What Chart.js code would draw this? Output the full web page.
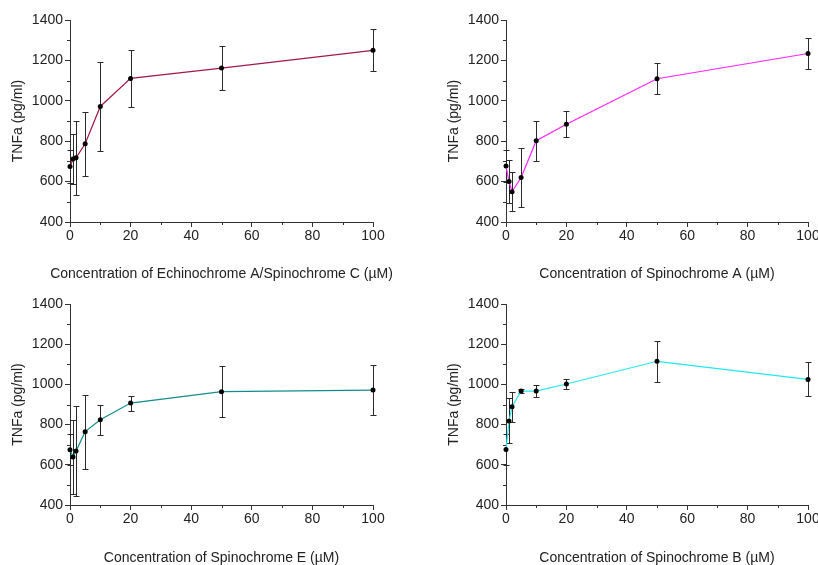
<!DOCTYPE html>
<html>
<head>
<meta charset="utf-8">
<script src="https://cdn.jsdelivr.net/npm/chart.js@4"></script>
<style>
  html, body { margin: 0; padding: 0; background: #fff; overflow: hidden; }
  body { width: 818px; height: 565px; position: relative; }
  canvas { position: absolute; }
</style>
</head>
<body>
<canvas id="c1" width="409" height="285" style="left:0;top:0"></canvas>
<canvas id="c2" width="409" height="285" style="left:409px;top:0"></canvas>
<canvas id="c3" width="409" height="282" style="left:0;top:285px"></canvas>
<canvas id="c4" width="409" height="282" style="left:409px;top:285px"></canvas>
<script>
// ---- data ----
const concentrations = [0, 1, 2, 5, 10, 20, 50, 100];

const echinoMean = [675, 712, 718, 787, 972, 1111, 1162, 1250];
const echinoErr  = [80, 125, 184, 157, 219, 141, 108, 103];

const spinoAMean = [677, 600, 550, 620, 802, 884, 1109, 1234];
const spinoAErr  = [80, 108, 97, 148, 99, 64, 77, 76];

const spinoEMean = [675, 639, 669, 765, 824, 907, 964, 972];
const spinoEErr  = [77, 185, 225, 184, 76, 37, 127, 126];

const spinoBMean = [676, 818, 889, 967, 967, 1002, 1115, 1025];
const spinoBErr  = [78, 112, 75, 10, 30, 25, 101, 84];

const xTicks = [0, 20, 40, 60, 80, 100];
const xMinorTicks = [10, 30, 50, 70, 90];
const yTicks = [400, 600, 800, 1000, 1200, 1400];
const yMinorTicks = [500, 700, 900, 1100, 1300];

const yTitle = 'TNFa (pg/ml)';
const xTitles = [
  'Concentration of Echinochrome A/Spinochrome C (\u00b5M)',
  'Concentration of Spinochrome A (\u00b5M)',
  'Concentration of Spinochrome E (\u00b5M)',
  'Concentration of Spinochrome B (\u00b5M)'
];
const lineColors = ['#a3164c', '#ff22ff', '#138c8c', '#22e8f0'];

// ---- plugins ----
const AXIS = '#333333';
const TEXT = '#222222';
const FONT = "'Liberation Sans', Arial, sans-serif";

const errorBars = {
  id: 'errorBars',
  beforeDatasetsDraw(chart) {
    const { ctx, scales: { x, y } } = chart;
    ctx.save();
    ctx.strokeStyle = '#2a2a2a';
    ctx.lineWidth = 1;
    chart.data.datasets.forEach(ds => {
      ds.data.forEach((p, j) => {
        const e = ds.errors[j];
        const px = Math.round(x.getPixelForValue(p.x)) + 0.5;
        const t = Math.round(y.getPixelForValue(p.y + e)) + 0.5;
        const b = Math.round(y.getPixelForValue(p.y - e)) + 0.5;
        ctx.beginPath();
        ctx.moveTo(px, t); ctx.lineTo(px, b);
        ctx.moveTo(px - 3, t); ctx.lineTo(px + 3, t);
        ctx.moveTo(px - 3, b); ctx.lineTo(px + 3, b);
        ctx.stroke();
      });
    });
    ctx.restore();
  }
};

const minorTicks = {
  id: 'minorTicks',
  afterDraw(chart) {
    const { ctx, scales: { x, y } } = chart;
    ctx.save();
    ctx.strokeStyle = AXIS;
    ctx.lineWidth = 1;
    ctx.beginPath();
    xMinorTicks.forEach(v => {
      const px = Math.round(x.getPixelForValue(v)) + 0.5;
      ctx.moveTo(px, x.top); ctx.lineTo(px, x.top + 3);
    });
    yMinorTicks.forEach(v => {
      const py = Math.round(y.getPixelForValue(v)) + 0.5;
      ctx.moveTo(y.right, py); ctx.lineTo(y.right - 3, py);
    });
    ctx.stroke();
    ctx.restore();
  }
};

// x-axis title drawn without width compression (it may be wider than the plot)
const xTitlePlugin = {
  id: 'xTitle',
  afterDraw(chart, args, opts) {
    const { ctx, scales: { x } } = chart;
    ctx.save();
    ctx.fillStyle = TEXT;
    ctx.font = '14px ' + FONT;
    ctx.textAlign = 'center';
    ctx.textBaseline = 'middle';
    ctx.fillText(opts.text, (x.left + x.right) / 2, x.bottom - 8.4 - opts.bottomPad);
    ctx.restore();
  }
};

function makeChart(id, mean, err, color, xTitle, pad, xHeight, titleBottomPad) {
  const pts = concentrations.map((c, i) => ({ x: c, y: mean[i] }));
  return new Chart(document.getElementById(id), {
    type: 'line',
    data: {
      datasets: [{
        data: pts,
        errors: err,
        borderColor: color,
        borderWidth: 1.2,
        pointRadius: 2.5,
        pointHoverRadius: 2.5,
        pointBackgroundColor: '#000',
        pointBorderColor: '#000',
        pointBorderWidth: 0,
        tension: 0,
        fill: false,
        clip: false
      }]
    },
    options: {
      responsive: false,
      animation: false,
      devicePixelRatio: 1,
      layout: { padding: pad },
      plugins: {
        legend: { display: false },
        tooltip: { enabled: false },
        xTitle: { text: xTitle, bottomPad: titleBottomPad }
      },
      events: [],
      scales: {
        x: {
          type: 'linear',
          min: 0, max: 100,
          afterBuildTicks: s => { s.ticks = xTicks.map(v => ({ value: v })); },
          afterFit: s => { s.height = xHeight; s.paddingLeft = 0; s.paddingRight = 0; },
          grid: { drawOnChartArea: false, drawTicks: true, tickLength: 5, color: AXIS, tickColor: AXIS },
          border: { display: true, color: AXIS, width: 1 },
          ticks: { color: TEXT, font: { family: FONT, size: 14 }, padding: 1, maxRotation: 0, autoSkip: false,
                   callback: v => String(v) },
          title: { display: false }
        },
        y: {
          type: 'linear',
          min: 400, max: 1400,
          afterBuildTicks: s => { s.ticks = yTicks.map(v => ({ value: v })); },
          afterFit: s => { s.width = 70; s.paddingTop = 0; s.paddingBottom = 0; },
          grid: { drawOnChartArea: false, drawTicks: true, tickLength: 5, color: AXIS, tickColor: AXIS },
          border: { display: true, color: AXIS, width: 1 },
          ticks: { color: TEXT, font: { family: FONT, size: 14 }, padding: 2, autoSkip: false,
                   callback: v => String(v) },
          title: { display: true, text: yTitle, color: TEXT, font: { family: FONT, size: 14 },
                   padding: { top: 10, bottom: 0 } }
        }
      }
    },
    plugins: [errorBars, minorTicks, xTitlePlugin]
  });
}

makeChart('c1', echinoMean, echinoErr, lineColors[0], xTitles[0], { left: 0, right: 36, top: 20, bottom: 0 }, 63, 2);
makeChart('c2', spinoAMean, spinoAErr, lineColors[1], xTitles[1], { left: 27, right: 10, top: 20, bottom: 0 }, 63, 2);
makeChart('c3', spinoEMean, spinoEErr, lineColors[2], xTitles[2], { left: 0, right: 36, top: 19, bottom: 0 }, 62, 0);
makeChart('c4', spinoBMean, spinoBErr, lineColors[3], xTitles[3], { left: 27, right: 10, top: 19, bottom: 0 }, 62, 0);
</script>
</body>
</html>
